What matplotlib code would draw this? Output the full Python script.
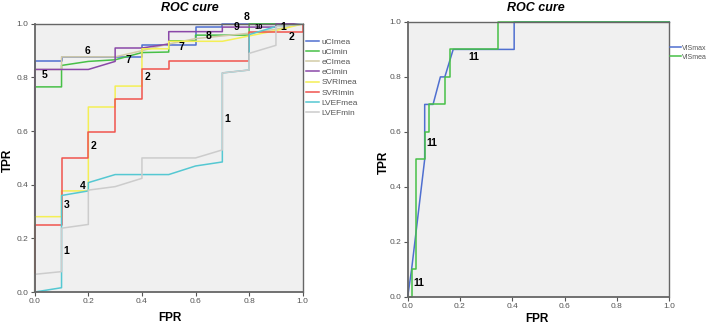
import matplotlib.pyplot as plt

plt.rcParams['font.family'] = ['Liberation Sans', 'DejaVu Sans']

# left panel: ROC curves (FPR, TPR)
uCImea_x = [0, 0, 0.1, 0.1, 0.4, 0.4, 0.6, 0.6, 0.7, 0.7, 1.0]
uCImea_y = [0, 0.86, 0.86, 0.877, 0.877, 0.922, 0.922, 0.988, 0.988, 1.0, 1.0]
uCImin_x = [0, 0, 0.1, 0.1, 0.2, 0.3, 0.4, 0.5, 0.5, 0.6, 0.6, 0.8, 0.8, 1.0]
uCImin_y = [0, 0.765, 0.765, 0.845, 0.86, 0.866, 0.893, 0.895, 0.937, 0.937, 0.958, 0.958, 1.0, 1.0]
eCImea_x = [0, 0, 0.1, 0.1, 0.3, 0.4, 0.5, 0.6, 0.7, 0.8, 0.9, 1.0]
eCImea_y = [0, 0.83, 0.83, 0.877, 0.877, 0.90, 0.925, 0.945, 0.955, 0.965, 0.98, 1.0]
eCImin_x = [0, 0, 0.2, 0.3, 0.3, 0.4, 0.5, 0.5, 0.7, 0.7, 0.9, 0.9, 1.0]
eCImin_y = [0, 0.83, 0.83, 0.86, 0.91, 0.91, 0.925, 0.971, 0.971, 0.988, 0.988, 1.0, 1.0]
SVRImea_x = [0, 0, 0.1, 0.1, 0.2, 0.2, 0.3, 0.3, 0.4, 0.4, 0.5, 0.5, 0.7, 0.8, 0.9, 1.0]
SVRImea_y = [0, 0.281, 0.281, 0.377, 0.377, 0.69, 0.69, 0.768, 0.768, 0.907, 0.907, 0.935, 0.935, 0.955, 0.975, 1.0]
SVRImin_x = [0, 0, 0.1, 0.1, 0.2, 0.2, 0.3, 0.3, 0.4, 0.4, 0.5, 0.5, 0.8, 0.8, 1.0, 1.0]
SVRImin_y = [0, 0.25, 0.25, 0.50, 0.50, 0.596, 0.596, 0.72, 0.72, 0.83, 0.83, 0.862, 0.862, 0.969, 0.969, 1.0]
LVEFmea_x = [0, 0.1, 0.1, 0.2, 0.2, 0.3, 0.5, 0.6, 0.7, 0.7, 0.8, 0.8, 0.9, 1.0]
LVEFmea_y = [0, 0.016, 0.36, 0.377, 0.408, 0.438, 0.438, 0.47, 0.485, 0.817, 0.828, 0.96, 0.99, 1.0]
LVEFmin_x = [0, 0, 0.1, 0.1, 0.2, 0.2, 0.3, 0.4, 0.4, 0.6, 0.7, 0.7, 0.8, 0.8, 0.9, 0.9, 1.0]
LVEFmin_y = [0, 0.066, 0.076, 0.238, 0.252, 0.38, 0.393, 0.424, 0.50, 0.50, 0.53, 0.817, 0.828, 0.89, 0.92, 0.99, 1.0]

left_names = ['uCImea', 'uCImin', 'eCImea', 'eCImin', 'SVRImea', 'SVRImin', 'LVEFmea', 'LVEFmin']
left_colors = ['#4f6fd0', '#47c047', '#d2cba6', '#8a48a8', '#f4ef55', '#f0544e', '#55c8d2', '#cccccc']
left_x = [uCImea_x, uCImin_x, eCImea_x, eCImin_x, SVRImea_x, SVRImin_x, LVEFmea_x, LVEFmin_x]
left_y = [uCImea_y, uCImin_y, eCImea_y, eCImin_y, SVRImea_y, SVRImin_y, LVEFmea_y, LVEFmin_y]

left_lbl_text = ['5', '6', '7', '2', '7', '8', '9', '10', '8', '1', '2', '1', '2', '4', '3', '1']
left_lbl_x = [0.035, 0.197, 0.35, 0.42, 0.547, 0.65, 0.753, 0.836, 0.79, 0.927, 0.958, 0.717, 0.22, 0.18, 0.12, 0.118]
left_lbl_y = [0.81, 0.897, 0.866, 0.80, 0.915, 0.953, 0.988, 0.988, 1.025, 0.99, 0.95, 0.644, 0.546, 0.395, 0.325, 0.154]

# right panel
VISmax_x = [0, 0.015, 0.065, 0.065, 0.097, 0.125, 0.142, 0.174, 0.407, 0.407, 1.0]
VISmax_y = [0, 0.1, 0.5, 0.7, 0.7, 0.8, 0.8, 0.9, 0.9, 1.0, 1.0]
VISmea_x = [0, 0.017, 0.017, 0.033, 0.033, 0.065, 0.065, 0.082, 0.082, 0.142, 0.142, 0.161, 0.161, 0.344, 0.344, 1.0]
VISmea_y = [0, 0, 0.1, 0.1, 0.5, 0.5, 0.6, 0.6, 0.7, 0.7, 0.8, 0.8, 0.9, 0.9, 1.0, 1.0]
right_lbl_x = [0.043, 0.091, 0.253]
right_lbl_y = [0.05, 0.56, 0.874]

fig = plt.figure(figsize=(7.09, 3.27), dpi=100)
ax1 = fig.add_axes([0.049, 0.107, 0.378, 0.820])
ax2 = fig.add_axes([0.575, 0.092, 0.369, 0.841])

def style(ax):
    ax.set_facecolor('#f0f0f0')
    ax.set_xlim(0, 1)
    ax.set_ylim(0, 1)
    ax.set_xticks([0, 0.2, 0.4, 0.6, 0.8, 1.0])
    ax.set_yticks([0, 0.2, 0.4, 0.6, 0.8, 1.0])
    ax.set_xticklabels(['0.0', '0.2', '0.4', '0.6', '0.8', '1.0'])
    ax.set_yticklabels(['0.0', '0.2', '0.4', '0.6', '0.8', '1.0'])
    ax.tick_params(labelsize=6, colors='#555555', length=3, width=0.8, pad=1.5)
    for s in ax.spines.values():
        s.set_color('#666666')
        s.set_linewidth(1.0)
    for s in ['left', 'bottom']:
        ax.spines[s].set_linewidth(1.3)

style(ax1)
for xs, ys, c, n in zip(left_x, left_y, left_colors, left_names):
    ax1.plot(xs, ys, color=c, lw=1.1, label=n, clip_on=False)
for t, x, y in zip(left_lbl_text, left_lbl_x, left_lbl_y):
    ax1.text(x, y, t, fontsize=7.5 if t != '10' else 5.5, fontweight='bold', ha='center', va='center')
ax1.legend(loc='upper left', bbox_to_anchor=(0.995, 0.965), frameon=False, fontsize=6,
           handlelength=1.5, handletextpad=0.3, labelspacing=0.27, borderaxespad=0.2,
           labelcolor='#555555')

style(ax2)
ax2.plot(VISmax_x, VISmax_y, color='#4f6fd0', lw=1.1, label='VISmax', clip_on=False)
ax2.plot(VISmea_x, VISmea_y, color='#47c047', lw=1.1, label='VISmea', clip_on=False)
for x, y in zip(right_lbl_x, right_lbl_y):
    ax2.text(x, y, '11', fontsize=7.5, fontweight='bold', ha='center', va='center')
ax2.legend(loc='upper left', bbox_to_anchor=(0.99, 0.93), frameon=False, fontsize=5,
           handlelength=1.5, handletextpad=0.2, labelspacing=0.3, borderaxespad=0.1,
           labelcolor='#555555')

fig.text(190 / 709, 1 - 8 / 327, 'ROC cure', fontsize=9, fontweight='bold', style='italic',
         ha='center', va='center')
fig.text(536 / 709, 1 - 8 / 327, 'ROC cure', fontsize=9, fontweight='bold', style='italic',
         ha='center', va='center')
fig.text(170 / 709, 1 - 318 / 327, 'FPR', fontsize=8.5, fontweight='bold', ha='center', va='center')
fig.text(537 / 709, 1 - 319 / 327, 'FPR', fontsize=8.5, fontweight='bold', ha='center', va='center')
fig.text(8 / 709, 1 - 160 / 327, 'TPR', fontsize=8.5, fontweight='bold', rotation=90, ha='center', va='center')
fig.text(384 / 709, 1 - 162 / 327, 'TPR', fontsize=8.5, fontweight='bold', rotation=90, ha='center', va='center')

fig.savefig('out.png', dpi=100)
